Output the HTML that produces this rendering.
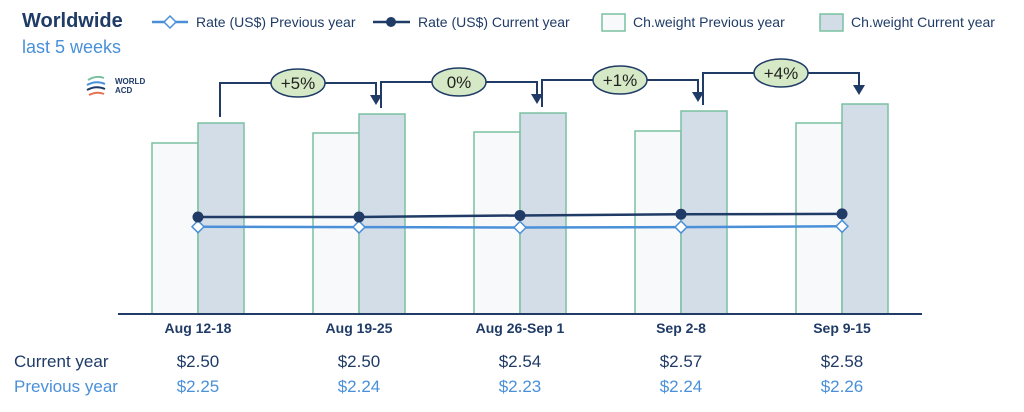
<!DOCTYPE html>
<html><head><meta charset="utf-8"><style>
body{margin:0;background:#fff;width:1024px;height:407px;overflow:hidden;font-family:"Liberation Sans",sans-serif}
</style></head><body>
<svg id="c" width="1024" height="407" xmlns="http://www.w3.org/2000/svg">
<text x="22" y="27" font-size="20" font-weight="bold" fill="#1f3b66">Worldwide</text>
<text x="22" y="53" font-size="18" fill="#4a90d9">last 5 weeks</text>
<g>
<path d="M88 80 q8 -5 16 -2" stroke="#7ac0a0" stroke-width="2" fill="none"/>
<path d="M87 85 q9 -5 18 -1" stroke="#4a90d9" stroke-width="2" fill="none"/>
<path d="M87 90 q9 -5 18 -1" stroke="#1f3b66" stroke-width="2" fill="none"/>
<path d="M89 95 q8 -4 15 -1" stroke="#e87050" stroke-width="2" fill="none"/>
<text x="115" y="84" font-size="8" font-weight="bold" fill="#1f3b66">WORLD</text>
<text x="115" y="93" font-size="8" font-weight="bold" fill="#1f3b66">ACD</text>
</g>
<g>
<line x1="152" y1="22" x2="188" y2="22" stroke="#4a90d9" stroke-width="2.5"/>
<path d="M170 16 l6 6 -6 6 -6 -6z" fill="#fff" stroke="#4a90d9" stroke-width="1.5"/>
<text x="196" y="27" font-size="14" fill="#1f3b66">Rate (US$) Previous year</text>
<line x1="373" y1="22" x2="410" y2="22" stroke="#1f3b66" stroke-width="2.5"/>
<circle cx="391" cy="22" r="5" fill="#1f3b66"/>
<text x="418" y="27" font-size="14" fill="#1f3b66">Rate (US$) Current year</text>
<rect x="602" y="14" width="23" height="17" fill="#f8f9fb" stroke="#7ac0a0" stroke-width="1.5"/>
<text x="633" y="27" font-size="14" fill="#1f3b66">Ch.weight Previous year</text>
<rect x="820" y="14" width="23" height="17" fill="#d3dde8" stroke="#7ac0a0" stroke-width="1.5"/>
<text x="851" y="27" font-size="14" fill="#1f3b66">Ch.weight Current year</text>
</g>
<g id="plot"></g>
</svg>
<script>
const categories=["Aug 12-18","Aug 19-25","Aug 26-Sep 1","Sep 2-8","Sep 9-15"];
const weightPrev=[171,181,182,183,191];
const weightCur=[191,200,201,203,210];
const ratePrev=[2.25,2.24,2.23,2.24,2.26];
const rateCur=[2.50,2.50,2.54,2.57,2.58];
const changeLabels=["+5%","0%","+1%","+4%"];
const NS="http://www.w3.org/2000/svg";
const g=document.getElementById('plot');
const base=314;
const xc=i=>198+i*161;
const yW=v=>base-v;
const yR=v=>base-(v-0.0)*38.8;
function el(t,a,p){const e=document.createElementNS(NS,t);for(const k in a)e.setAttribute(k,a[k]);(p||g).appendChild(e);return e;}
categories.forEach((c,i)=>{
 let r=el('rect',{x:xc(i)-46,y:yW(weightPrev[i]),width:46,height:weightPrev[i],fill:'#f8f9fb',stroke:'#7ac0a0','stroke-width':1.5});
 
 
 let r2=el('rect',{x:xc(i),y:yW(weightCur[i]),width:46,height:weightCur[i],fill:'#d3dde8',stroke:'#7ac0a0','stroke-width':1.5});
 
 
 let t=el('text',{x:xc(i),y:333,'font-size':14,'font-weight':'bold',fill:'#1f3b66','text-anchor':'middle'});t.textContent=c;
 
 
 let a=el('text',{x:xc(i),y:367,'font-size':17,fill:'#1f3b66','text-anchor':'middle'});a.textContent='$'+rateCur[i].toFixed(2);
 
 
 let b=el('text',{x:xc(i),y:392,'font-size':17,fill:'#4a90d9','text-anchor':'middle'});b.textContent='$'+ratePrev[i].toFixed(2);
 
 
});
let ax=el('line',{x1:118,y1:base,x2:922,y2:base,stroke:'#1f3b66','stroke-width':2});


let lp=el('polyline',{points:ratePrev.map((v,i)=>xc(i)+','+yR(v)).join(' '),fill:'none',stroke:'#4a90d9','stroke-width':2.5});


let lc=el('polyline',{points:rateCur.map((v,i)=>xc(i)+','+yR(v)).join(' '),fill:'none',stroke:'#1f3b66','stroke-width':2.5});


ratePrev.forEach((v,i)=>{const y=yR(v);let d=el('path',{d:`M${xc(i)} ${y-6} l6 6 -6 6 -6 -6z`,fill:'#fff',stroke:'#4a90d9','stroke-width':1.5});
 
 });
rateCur.forEach((v,i)=>{let d=el('circle',{cx:xc(i),cy:yR(v),r:5.5,fill:'#1f3b66'});
 
 });
changeLabels.forEach((lab,i)=>{
 const t1=yW(weightCur[i]),t2=yW(weightCur[i+1]);
 const x1=xc(i)+22,x2=xc(i+1)+17;
 const hy=Math.min(t1,t2)-31;
 let p=el('polyline',{points:`${x1},${t1-6} ${x1},${hy} ${x2},${hy} ${x2},${t2-18}`,fill:'none',stroke:'#1f3b66','stroke-width':2});
 
 
 let ar=el('path',{d:`M${x2-6} ${t2-19} L${x2+6} ${t2-19} L${x2} ${t2-9}z`,fill:'#1f3b66'});
 
 
 const mx=(x1+x2)/2;
 let e=el('ellipse',{cx:mx,cy:hy,rx:27,ry:14,fill:'#d6e9c6',stroke:'#1f3b66','stroke-width':1.5});
 
 
 let t=el('text',{x:mx,y:hy+6,'font-size':17,fill:'#222','text-anchor':'middle'});t.textContent=lab;
 
 
});
let r1=el('text',{x:14,y:367,'font-size':17,fill:'#1f3b66'});r1.textContent='Current year';


let r2=el('text',{x:14,y:392,'font-size':17,fill:'#4a90d9'});r2.textContent='Previous year';


</script>
</body></html>
